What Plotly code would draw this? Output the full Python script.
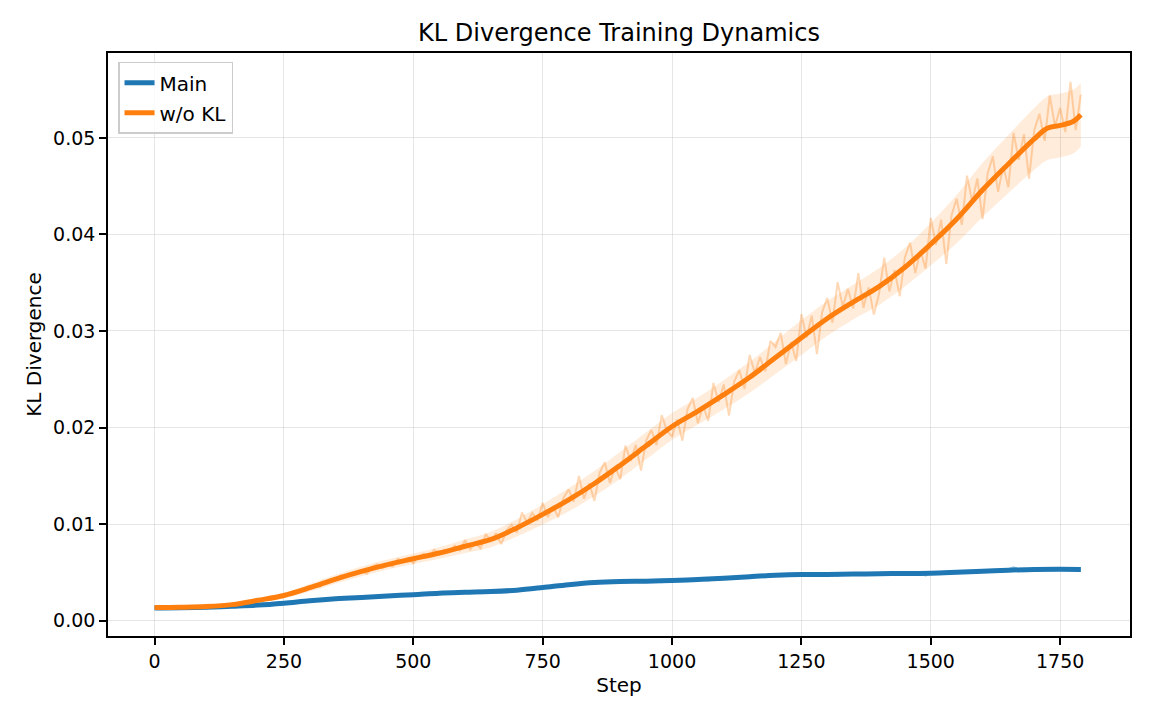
import plotly.graph_objects as go

# ---------------- data ----------------
raw_steps = list(range(0, 1800, 10))

main_raw = [
    0.00130, 0.00131, 0.00130, 0.00132, 0.00131, 0.00133, 0.00132, 0.00134, 0.00135, 0.00136,
    0.00137, 0.00139, 0.00140, 0.00142, 0.00145, 0.00147, 0.00150, 0.00152, 0.00155, 0.00158,
    0.00160, 0.00163, 0.00166, 0.00170, 0.00175, 0.00180, 0.00186, 0.00190, 0.00196, 0.00200,
    0.00206, 0.00210, 0.00214, 0.00219, 0.00222, 0.00226, 0.00230, 0.00229, 0.00236, 0.00238,
    0.00242, 0.00240, 0.00250, 0.00246, 0.00256, 0.00252, 0.00260, 0.00258, 0.00270, 0.00262,
    0.00268, 0.00285, 0.00272, 0.00280, 0.00292, 0.00282, 0.00290, 0.00296, 0.00286, 0.00300,
    0.00292, 0.00298, 0.00288, 0.00304, 0.00296, 0.00300, 0.00310, 0.00298, 0.00312, 0.00306,
    0.00316, 0.00322, 0.00318, 0.00335, 0.00330, 0.00345, 0.00340, 0.00356, 0.00362, 0.00368,
    0.00372, 0.00380, 0.00376, 0.00390, 0.00386, 0.00398, 0.00400, 0.00392, 0.00410, 0.00402,
    0.00405, 0.00398, 0.00416, 0.00402, 0.00396, 0.00418, 0.00405, 0.00410, 0.00395, 0.00420,
    0.00412, 0.00418, 0.00408, 0.00425, 0.00418, 0.00430, 0.00422, 0.00412, 0.00428, 0.00435,
    0.00440, 0.00432, 0.00446, 0.00452, 0.00445, 0.00458, 0.00450, 0.00462, 0.00470, 0.00466,
    0.00472, 0.00468, 0.00480, 0.00476, 0.00490, 0.00470, 0.00485, 0.00478, 0.00465, 0.00484,
    0.00478, 0.00488, 0.00462, 0.00490, 0.00476, 0.00485, 0.00492, 0.00478, 0.00480, 0.00490,
    0.00486, 0.00480, 0.00492, 0.00484, 0.00495, 0.00482, 0.00490, 0.00498, 0.00486, 0.00465,
    0.00488, 0.00482, 0.00496, 0.00505, 0.00498, 0.00510, 0.00496, 0.00515, 0.00508, 0.00520,
    0.00510, 0.00522, 0.00515, 0.00528, 0.00520, 0.00532, 0.00555, 0.00525, 0.00538, 0.00530,
    0.00534, 0.00526, 0.00540, 0.00532, 0.00522, 0.00538, 0.00530, 0.00536, 0.00528, 0.00532,
]

wokl_raw = [
    0.00135, 0.00138, 0.00135, 0.00140, 0.00136, 0.00139, 0.00136, 0.00141, 0.00144, 0.00141,
    0.00145, 0.00145, 0.00156, 0.00156, 0.00162, 0.00160, 0.00174, 0.00185, 0.00190, 0.00204,
    0.00222, 0.00214, 0.00232, 0.00228, 0.00255, 0.00270, 0.00269, 0.00293, 0.00298, 0.00335,
    0.00336, 0.00368, 0.00352, 0.00400, 0.00426, 0.00422, 0.00468, 0.00462, 0.00490, 0.00488,
    0.00518, 0.00484, 0.00554, 0.00584, 0.00542, 0.00584, 0.00560, 0.00640, 0.00608, 0.00648,
    0.00592, 0.00664, 0.00692, 0.00660, 0.00732, 0.00700, 0.00736, 0.00712, 0.00776, 0.00728,
    0.00834, 0.00736, 0.00806, 0.00748, 0.00898, 0.00824, 0.00904, 0.00792, 0.00936, 0.00992,
    0.00912, 0.01120, 0.01016, 0.01116, 0.01036, 0.01220, 0.01070, 0.01184, 0.01070, 0.01268,
    0.01358, 0.01230, 0.01498, 0.01262, 0.01422, 0.01240, 0.01530, 0.01640, 0.01426, 0.01590,
    0.01466, 0.01812, 0.01654, 0.01820, 0.01554, 0.01864, 0.01976, 0.01818, 0.02128, 0.01970,
    0.01905, 0.02084, 0.01864, 0.02190, 0.02306, 0.02044, 0.02225, 0.02070, 0.02461, 0.02264,
    0.02445, 0.02124, 0.02475, 0.02595, 0.02400, 0.02751, 0.02562, 0.02730, 0.02583, 0.02898,
    0.02834, 0.02980, 0.02658, 0.02882, 0.02690, 0.03174, 0.02932, 0.03158, 0.02760, 0.03194,
    0.03342, 0.03086, 0.03506, 0.03250, 0.03436, 0.03232, 0.03600, 0.03240, 0.03452, 0.03170,
    0.03382, 0.03760, 0.03410, 0.03632, 0.03360, 0.03764, 0.03916, 0.03600, 0.03830, 0.03644,
    0.04170, 0.03892, 0.04154, 0.03696, 0.04198, 0.04370, 0.04100, 0.04610, 0.04340, 0.04580,
    0.04160, 0.04634, 0.04808, 0.04442, 0.04706, 0.04490, 0.05052, 0.04774, 0.05036, 0.04578,
    0.05080, 0.05250, 0.04970, 0.05440, 0.05120, 0.05310, 0.05060, 0.05580, 0.05080, 0.05450,
]

main_steps = [0, 50, 100, 150, 200, 250, 300, 350, 400, 450, 500, 550, 600, 650, 700, 750,
              800, 850, 900, 950, 1000, 1050, 1100, 1150, 1200, 1250, 1300, 1350, 1400, 1450,
              1500, 1550, 1600, 1650, 1700, 1750, 1790]
main_smooth = [0.00130, 0.00132, 0.00138, 0.00148, 0.00160, 0.00180, 0.00205, 0.00225, 0.00240,
               0.00255, 0.00268, 0.00283, 0.00292, 0.00300, 0.00315, 0.00342, 0.00372, 0.00395,
               0.00405, 0.00408, 0.00415, 0.00425, 0.00438, 0.00455, 0.00470, 0.00478, 0.00478,
               0.00482, 0.00485, 0.00488, 0.00490, 0.00500, 0.00512, 0.00522, 0.00530, 0.00532,
               0.00530]
main_spread = [0.00003, 0.00003, 0.00004, 0.00005, 0.00006, 0.00008, 0.00008, 0.00009, 0.00010,
               0.00010, 0.00011, 0.00012, 0.00012, 0.00012, 0.00012, 0.00013, 0.00013, 0.00014,
               0.00014, 0.00014, 0.00015, 0.00015, 0.00015, 0.00015, 0.00015, 0.00015, 0.00015,
               0.00015, 0.00015, 0.00015, 0.00015, 0.00015, 0.00015, 0.00016, 0.00016, 0.00016,
               0.00016]

wokl_steps = [0, 50, 100, 150, 200, 250, 300, 350, 400, 450, 500, 550, 600, 650, 700, 750,
              800, 850, 900, 950, 1000, 1050, 1100, 1150, 1200, 1250, 1300, 1350, 1400, 1450,
              1500, 1550, 1600, 1650, 1700, 1725, 1750, 1775, 1790]
wokl_smooth = [0.00135, 0.00138, 0.00145, 0.00165, 0.00210, 0.00260, 0.00340, 0.00430, 0.00510,
               0.00580, 0.00640, 0.00700, 0.00770, 0.00840, 0.00960, 0.01100, 0.01250, 0.01420,
               0.01610, 0.01810, 0.02010, 0.02170, 0.02340, 0.02520, 0.02725, 0.02930, 0.03130,
               0.03300, 0.03460, 0.03660, 0.03900, 0.04160, 0.04460, 0.04730, 0.04990, 0.05100,
               0.05130, 0.05170, 0.05240]
wokl_spread = [0.00010, 0.00010, 0.00012, 0.00018, 0.00022, 0.00030, 0.00040, 0.00045, 0.00050,
               0.00052, 0.00055, 0.00060, 0.00070, 0.00080, 0.00090, 0.00105, 0.00120, 0.00130,
               0.00140, 0.00140, 0.00140, 0.00140, 0.00150, 0.00160, 0.00170, 0.00180, 0.00180,
               0.00180, 0.00190, 0.00200, 0.00220, 0.00250, 0.00280, 0.00300, 0.00320, 0.00330,
               0.00330, 0.00330, 0.00330]

x_ticks = [0, 250, 500, 750, 1000, 1250, 1500, 1750]
y_ticks = [0.00, 0.01, 0.02, 0.03, 0.04, 0.05]

BLUE = "#1f77b4"
ORANGE = "#ff7f0e"

series = [
    ("Main", main_steps, main_raw, main_smooth, main_spread, BLUE,
     "rgba(31,119,180,0.3)", "rgba(31,119,180,0.15)"),
    ("w/o KL", wokl_steps, wokl_raw, wokl_smooth, wokl_spread, ORANGE,
     "rgba(255,127,14,0.3)", "rgba(255,127,14,0.15)"),
]

fig = go.Figure()

for name, st, raw, sm, sp, col, rawcol, bandcol in series:
    lower = [m - s for m, s in zip(sm, sp)]
    upper = [m + s for m, s in zip(sm, sp)]
    fig.add_trace(go.Scatter(x=st, y=lower, mode="lines", line=dict(width=0, shape="spline"),
                             showlegend=False, hoverinfo="skip"))
    fig.add_trace(go.Scatter(x=st, y=upper, mode="lines", line=dict(width=0, shape="spline"),
                             fill="tonexty", fillcolor=bandcol, showlegend=False, hoverinfo="skip"))
    fig.add_trace(go.Scatter(x=raw_steps, y=raw, mode="lines", line=dict(color=rawcol, width=2),
                             showlegend=False, hoverinfo="skip"))

for name, st, raw, sm, sp, col, rawcol, bandcol in series:
    fig.add_trace(go.Scatter(x=st, y=sm, mode="lines", name=name, legendgroup=name,
                             line=dict(color=col, width=5, shape="spline")))

font = "DejaVu Sans, Arial, sans-serif"
axis_common = dict(
    showline=True, linecolor="black", linewidth=1.6, mirror=True,
    ticks="outside", ticklen=7, tickwidth=1.6, tickcolor="black",
    showgrid=True, gridcolor="rgba(176,176,176,0.32)", gridwidth=1.2,
    zeroline=False, tickfont=dict(family=font, size=19, color="black"),
)

fig.update_layout(
    width=1152, height=720,
    margin=dict(l=108, r=22, t=53, b=84),
    paper_bgcolor="white", plot_bgcolor="white",
    font=dict(family=font, size=19, color="black"),
    title=dict(text="KL Divergence Training Dynamics", x=0.5, xref="paper", xanchor="center",
               y=1 - 33 / 720, yref="container", yanchor="middle",
               font=dict(family=font, size=24, color="black")),
    xaxis=dict(axis_common, range=[-90, 1885], tickvals=x_ticks,
               ticktext=[str(v) for v in x_ticks],
               title=dict(text="Step", standoff=7, font=dict(family=font, size=20))),
    yaxis=dict(axis_common, range=[-0.0016, 0.0588], tickvals=y_ticks,
               ticktext=[f"{v:.2f}" for v in y_ticks],
               title=dict(text="KL Divergence", standoff=6, font=dict(family=font, size=20))),
    legend=dict(x=0.0098, y=0.985, xanchor="left", yanchor="top", traceorder="grouped",
                bgcolor="rgba(255,255,255,0.8)", bordercolor="#cccccc", borderwidth=1.5,
                font=dict(family=font, size=20), tracegroupgap=1),
    showlegend=True,
)

fig.write_html("out.html")
